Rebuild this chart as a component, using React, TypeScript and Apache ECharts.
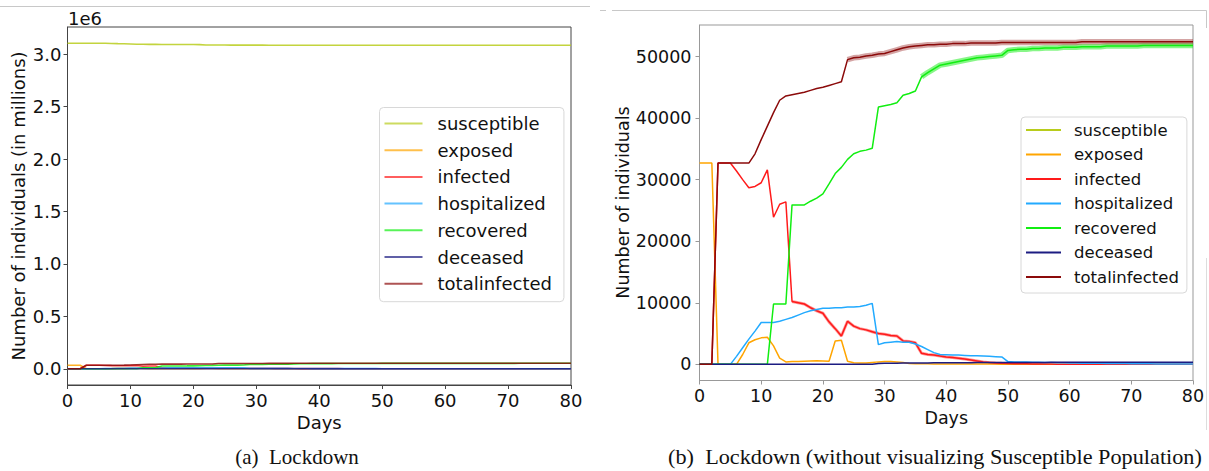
import React, { useEffect, useRef } from "react";
import * as echarts from "echarts";

// Days 0..80
const DAYS = [
  0, 1, 2, 3, 4, 5, 6, 7, 8, 9, 10, 11, 12, 13, 14, 15, 16, 17, 18, 19, 20,
  21, 22, 23, 24, 25, 26, 27, 28, 29, 30, 31, 32, 33, 34, 35, 36, 37, 38, 39, 40,
  41, 42, 43, 44, 45, 46, 47, 48, 49, 50, 51, 52, 53, 54, 55, 56, 57, 58, 59, 60,
  61, 62, 63, 64, 65, 66, 67, 68, 69, 70, 71, 72, 73, 74, 75, 76, 77, 78, 79, 80,
];

const SERIES_NAMES = ["susceptible", "exposed", "infected", "hospitalized", "recovered", "deceased", "totalinfected"];

const SUSCEPTIBLE = [
  3105000, 3105000, 3105000, 3105000, 3105000, 3105000, 3105000, 3103000, 3101000, 3100000,
  3098000, 3096000, 3095000, 3094000, 3094000, 3093500, 3093500, 3093000, 3093000, 3092500,
  3092500, 3092000, 3089000, 3089000, 3088000, 3088000, 3087500, 3087500, 3087500, 3087000,
  3087000, 3086800, 3086600, 3086400, 3086200, 3086000, 3086000, 3085900, 3085900, 3085800,
  3085800, 3085800, 3085700, 3085700, 3085700, 3085600, 3085600, 3085600, 3085600, 3085500,
  3085500, 3085500, 3085500, 3085500, 3085500, 3085400, 3085400, 3085400, 3085400, 3085400,
  3085400, 3085400, 3085300, 3085300, 3085300, 3085300, 3085300, 3085300, 3085300, 3085300,
  3085300, 3085300, 3085300, 3085300, 3085300, 3085300, 3085300, 3085300, 3085300, 3085300,
  3085300,
];

const EXPOSED = [
  32700, 32700, 32700, 0, 0, 0, 0, 1600, 3500, 4000,
  4300, 4400, 3000, 1000, 400, 450, 450, 500, 550, 600,
  550, 500, 3800, 3900, 500, 250, 200, 200, 300, 400,
  450, 450, 400, 300, 150, 100, 80, 80, 70, 70,
  60, 60, 50, 50, 50, 40, 40, 40, 40, 30,
  30, 30, 30, 30, 20, 20, 20, 20, 20, 20,
  20, 10, 10, 10, 10, 10, 10, 10, 10, 10,
  10, 10, 10, 10, 10, 10, 10, 10, 10, 10,
  10,
];

const INFECTED = [
  0, 0, 0, 32700, 32700, 32700, 31400, 30000, 28700, 28900,
  29500, 31600, 23900, 26000, 26400, 10200, 10000, 9800, 9200, 8700,
  8300, 6900, 5800, 4600, 7000, 6200, 5800, 5600, 5300, 5000,
  4900, 4700, 4600, 3800, 3700, 3500, 1800, 1600, 1500, 1350,
  1200, 1100, 1000, 850, 700, 550, 400, 280, 220, 170,
  130, 110, 90, 80, 70, 60, 50, 40, 30, 30,
  20, 20, 20, 10, 10, 10, 10, 10, 10, 10,
  10, 10, 10, 10, 10, 10, 10, 10, 10, 10,
  10,
];

const HOSPITALIZED = [
  0, 0, 0, 0, 0, 0, 1300, 2700, 4100, 5400,
  6800, 6800, 6800, 7000, 7300, 7600, 8000, 8400, 8700, 8900,
  9100, 9100, 9200, 9200, 9300, 9300, 9400, 9600, 9900, 3200,
  3500, 3600, 3700, 3600, 3600, 3300, 2900, 2400, 1900, 1600,
  1550, 1500, 1500, 1450, 1400, 1400, 1350, 1300, 1250, 1200,
  450, 400, 380, 360, 340, 320, 300, 280, 260, 240,
  220, 200, 190, 180, 170, 160, 150, 140, 130, 120,
  110, 100, 90, 80, 70, 60, 60, 50, 50, 50,
  40,
];

const RECOVERED = [
  0, 0, 0, 0, 0, 0, 0, 0, 0, 0,
  0, 0, 9800, 9800, 9800, 25900, 25900, 25900, 26500, 27000,
  27700, 29300, 31000, 32000, 33300, 34200, 34600, 34800, 35100, 41800,
  42000, 42200, 42500, 43700, 44000, 44400, 46700, 47400, 48000, 48600,
  48800, 49000, 49200, 49400, 49600, 49800, 49900, 50000, 50100, 50200,
  51000, 51100, 51200, 51200, 51300, 51300, 51400, 51400, 51400, 51500,
  51500, 51500, 51600, 51600, 51600, 51600, 51700, 51700, 51700, 51700,
  51700, 51700, 51800, 51800, 51800, 51800, 51800, 51800, 51800, 51800,
  51800,
];

const DECEASED = [
  0, 0, 0, 0, 0, 0, 0, 0, 0, 0,
  0, 0, 0, 0, 0, 0, 0, 0, 0, 0,
  0, 0, 0, 0, 0, 0, 0, 0, 0, 150,
  170, 180, 190, 200, 200, 210, 220, 230, 240, 250,
  250, 260, 260, 270, 270, 280, 280, 280, 290, 290,
  300, 300, 300, 310, 310, 310, 310, 320, 320, 320,
  320, 320, 330, 330, 330, 330, 330, 330, 340, 340,
  340, 340, 340, 340, 350, 350, 350, 350, 350, 350,
  350,
];

const TOTAL_INFECTED = [
  0, 0, 0, 32700, 32700, 32700, 32700, 32700, 32700, 34200,
  36500, 38700, 40900, 42900, 43600, 43800, 44000, 44200, 44500, 44800,
  45000, 45300, 45600, 45900, 49500, 49800, 49900, 50100, 50200, 50400,
  50500, 50800, 51100, 51400, 51600, 51700, 51800, 51900, 51900, 52000,
  52000, 52100, 52100, 52100, 52200, 52200, 52200, 52200, 52200, 52300,
  52300, 52300, 52300, 52300, 52300, 52300, 52300, 52300, 52300, 52300,
  52300, 52300, 52400, 52400, 52400, 52400, 52400, 52400, 52400, 52400,
  52400, 52400, 52400, 52400, 52400, 52400, 52400, 52400, 52400, 52400,
  52400,
];

const LEFT_Y_TICKS = [0, 500000, 1000000, 1500000, 2000000, 2500000, 3000000];
const RIGHT_Y_TICKS = [0, 10000, 20000, 30000, 40000, 50000];

const COLORS: Record<string, string> = {
  susceptible: "#b8cc1c",
  exposed: "#ffa500",
  infected: "#ff1a1a",
  hospitalized: "#22aaff",
  recovered: "#11ee11",
  deceased: "#1c1c82",
  totalinfected: "#8b0a0a",
};

const DATA: Record<string, number[]> = {
  susceptible: SUSCEPTIBLE,
  exposed: EXPOSED,
  infected: INFECTED,
  hospitalized: HOSPITALIZED,
  recovered: RECOVERED,
  deceased: DECEASED,
  totalinfected: TOTAL_INFECTED,
};

const FONT = "DejaVu Sans";
const SERIF = "Liberation Serif";

function pairs(arr: number[], from = 0, to = 1000) {
  return arr.map((v, i) => (i >= from && i <= to ? [DAYS[i], v] : [DAYS[i], null]));
}

function buildOption() {
  const series: any[] = [];
  // left chart
  SERIES_NAMES.forEach((n) => {
    series.push({
      name: n,
      type: "line",
      xAxisIndex: 0,
      yAxisIndex: 0,
      data: pairs(DATA[n]),
      showSymbol: false,
      symbol: "none",
      lineStyle: { color: COLORS[n], width: 1.6, opacity: 0.85 },
      itemStyle: { color: COLORS[n] },
      silent: true,
    });
  });
  // right chart bands (overlapping runs)
  series.push({
    name: "infected_runs",
    type: "line",
    xAxisIndex: 1,
    yAxisIndex: 1,
    data: pairs(INFECTED, 15, 50),
    showSymbol: false,
    symbol: "none",
    lineStyle: { color: COLORS.infected, width: 3, opacity: 0.45 },
    silent: true,
  });
  series.push({
    name: "recovered_runs",
    type: "line",
    xAxisIndex: 1,
    yAxisIndex: 1,
    data: pairs(RECOVERED, 36, 80),
    showSymbol: false,
    symbol: "none",
    lineStyle: { color: COLORS.recovered, width: 5.5, opacity: 0.5 },
    silent: true,
  });
  series.push({
    name: "totalinfected_runs",
    type: "line",
    xAxisIndex: 1,
    yAxisIndex: 1,
    data: pairs(TOTAL_INFECTED, 24, 80),
    showSymbol: false,
    symbol: "none",
    lineStyle: { color: "#a03535", width: 5.5, opacity: 0.45 },
    silent: true,
  });
  // right chart
  SERIES_NAMES.forEach((n) => {
    series.push({
      name: n,
      type: "line",
      xAxisIndex: 1,
      yAxisIndex: 1,
      data: n === "susceptible" ? [] : pairs(DATA[n]),
      showSymbol: false,
      symbol: "none",
      lineStyle: { color: COLORS[n], width: 1.5 },
      itemStyle: { color: COLORS[n] },
      silent: true,
    });
  });

  const xAxisCommon = (fs: number, color: string, gap: number) => ({
    type: "value",
    min: 0,
    max: 80,
    interval: 10,
    splitLine: { show: false },
    axisLine: { show: true, onZero: false, lineStyle: { color, width: 1 } },
    axisTick: { show: true, length: 4, lineStyle: { color } },
    axisLabel: { fontSize: fs, fontFamily: FONT, color: "#111", margin: 6 },
    name: "Days",
    nameLocation: "middle",
    nameGap: gap,
    nameTextStyle: { fontSize: fs, fontFamily: FONT, color: "#111" },
  });

  const legendCommon = (left: number, top: number, fs: number, lh: number, gap: number, iw: number, textPad: number, pad: number[], opacity: number) => ({
    orient: "vertical",
    left,
    top,
    icon: "rect",
    itemWidth: iw,
    itemHeight: 2,
    itemGap: gap,
    selectedMode: false,
    padding: pad,
    borderColor: "#d8d8d8",
    borderWidth: 1,
    borderRadius: 4,
    backgroundColor: "rgba(255,255,255,0.85)",
    textStyle: { fontSize: fs, lineHeight: lh, fontFamily: FONT, color: "#111", padding: [0, 0, 0, textPad] },
    data: SERIES_NAMES.map((n) => ({ name: n, itemStyle: { color: COLORS[n], opacity } })),
  });

  const captionStyle = (text: string) => ({
    text,
    fontSize: 21,
    fontFamily: SERIF,
    fill: "#111",
    align: "center",
    verticalAlign: "middle",
    textAlign: "center",
    textVerticalAlign: "middle",
  });

  return {
    animation: false,
    backgroundColor: "#ffffff",
    grid: [
      { left: 67.5, top: 27, width: 503.5, height: 358, show: true, borderColor: "#444", borderWidth: 1, backgroundColor: "transparent" },
      { left: 699.5, top: 25, width: 493.5, height: 355.5, show: true, borderColor: "#999", borderWidth: 1, backgroundColor: "transparent" },
    ],
    xAxis: [
      { ...xAxisCommon(18, "#444", 25), gridIndex: 0 },
      { ...xAxisCommon(17.5, "#999", 24.5), gridIndex: 1 },
    ],
    yAxis: [
      {
        type: "value",
        gridIndex: 0,
        min: -155000,
        max: 3260000,
        splitLine: { show: false },
        axisLine: { show: true, onZero: false, lineStyle: { color: "#444" } },
        axisTick: { show: true, length: 4, customValues: LEFT_Y_TICKS, lineStyle: { color: "#444" } },
        axisLabel: {
          customValues: LEFT_Y_TICKS,
          fontSize: 18,
          fontFamily: FONT,
          color: "#111",
          margin: 6,
          formatter: (v: number) => (v / 1e6).toFixed(1),
        },
      },
      {
        type: "value",
        gridIndex: 1,
        min: -2625,
        max: 55125,
        splitLine: { show: false },
        axisLine: { show: true, onZero: false, lineStyle: { color: "#999" } },
        axisTick: { show: true, length: 4, customValues: RIGHT_Y_TICKS, lineStyle: { color: "#999" } },
        axisLabel: {
          customValues: RIGHT_Y_TICKS,
          fontSize: 17.5,
          fontFamily: FONT,
          color: "#111",
          margin: 8,
          formatter: (v: number) => String(v),
        },
      },
    ],
    legend: [
      legendCommon(379.5, 107.5, 18, 20, 6.7, 38, 10, [6, 12, 8, 5], 0.7),
      legendCommon(1021, 117, 16.5, 18, 6.5, 35, 8, [4, 8, 7, 5], 1),
    ],
    series,
    graphic: [
      { type: "line", shape: { x1: 0, y1: 6.5, x2: 590, y2: 6.5 }, style: { stroke: "#c8c8c8", lineWidth: 1 }, silent: true },
      { type: "line", shape: { x1: 600, y1: 10.5, x2: 606, y2: 10.5 }, style: { stroke: "#c8c8c8", lineWidth: 1 }, silent: true },
      { type: "line", shape: { x1: 612, y1: 10.5, x2: 1206.5, y2: 10.5 }, style: { stroke: "#c8c8c8", lineWidth: 1 }, silent: true },
      { type: "line", shape: { x1: 1206.5, y1: 10.5, x2: 1206.5, y2: 28 }, style: { stroke: "#c8c8c8", lineWidth: 1 }, silent: true },
      { type: "line", shape: { x1: 1206.5, y1: 258, x2: 1206.5, y2: 430 }, style: { stroke: "#dddddd", lineWidth: 1 }, silent: true },
      {
        type: "text",
        x: 68,
        y: 18.5,
        silent: true,
        style: { text: "1e6", fontSize: 18, fontFamily: FONT, fill: "#111", align: "left", verticalAlign: "middle", textAlign: "left", textVerticalAlign: "middle" },
      },
      {
        type: "text",
        x: 18.5,
        y: 206,
        rotation: Math.PI / 2,
        silent: true,
        style: { text: "Number of individuals (in millions)", fontSize: 18, fontFamily: FONT, fill: "#111", align: "center", verticalAlign: "middle", textAlign: "center", textVerticalAlign: "middle" },
      },
      {
        type: "text",
        x: 622.5,
        y: 202.5,
        rotation: Math.PI / 2,
        silent: true,
        style: { text: "Number of individuals", fontSize: 17.5, fontFamily: FONT, fill: "#111", align: "center", verticalAlign: "middle", textAlign: "center", textVerticalAlign: "middle" },
      },
      {
        type: "text",
        x: 297,
        y: 457,
        silent: true,
        style: captionStyle("(a)  Lockdown"),
      },
      {
        type: "text",
        x: 935,
        y: 457,
        scaleX: 1.06,
        silent: true,
        style: captionStyle("(b)  Lockdown (without visualizing Susceptible Population)"),
      },
    ],
  };
}

export default function App() {
  const ref = useRef<HTMLDivElement>(null);
  useEffect(() => {
    if (!ref.current) return;
    const chart = echarts.init(ref.current, undefined, { renderer: "svg" });
    chart.setOption(buildOption() as any);
    return () => chart.dispose();
  }, []);
  return (
    <div
      ref={ref}
      style={{ position: "absolute", left: 0, top: 0, width: 1209, height: 471, background: "#fff" }}
    />
  );
}
